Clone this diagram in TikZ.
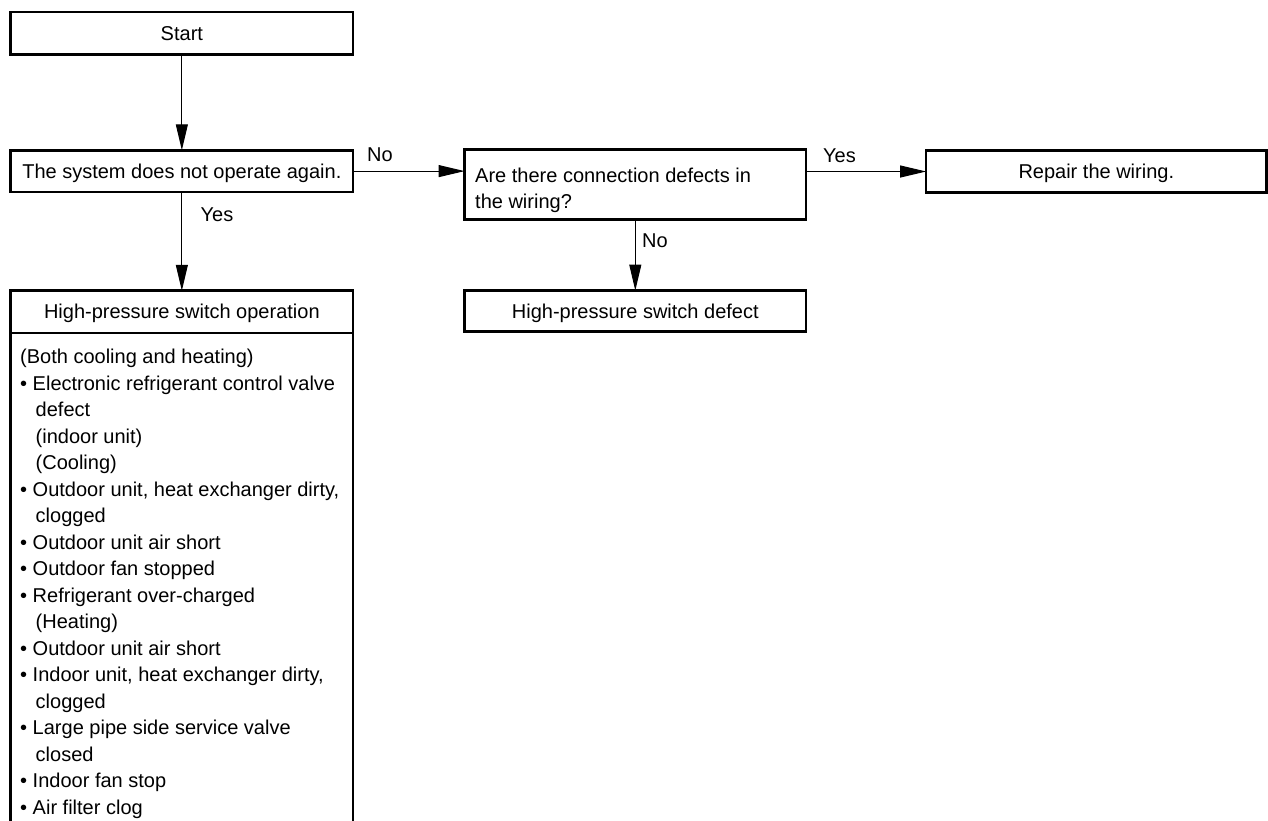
\documentclass[tikz,border=0pt]{standalone}
\usepackage{fontspec}
\setmainfont{Liberation Sans}
\usetikzlibrary{arrows.meta}
\begin{document}
\begin{tikzpicture}[x=1pt,y=-1pt,
  box/.style={draw, line width=2.6pt, outer sep=0pt, inner sep=0pt,
    font=\fontsize{20}{26.5}\selectfont, text height=14.3pt, text depth=0pt},
  lbl/.style={font=\fontsize{20}{26.5}\selectfont, inner sep=0pt},
  txt/.style={font=\fontsize{20}{26.5}\selectfont, inner sep=0pt, align=left, anchor=north west},
  arr/.style={line width=1pt, -{Triangle[length=26pt,width=12pt]}},
  side/.style={line width=2.6pt}]
\useasboundingbox (0,0) rectangle (1268,820);
\coordinate (bot) at (0,821);
% boxes
\node[box, minimum width=342.3pt, minimum height=42.4pt] (start) at (181.85,33) {Start};
\node[box, minimum width=342.3pt, minimum height=41.7pt] (sys) at (181.85,171.1) {The system does not operate again.};
\node[box, minimum width=342.3pt, minimum height=42.1pt] (hpop) at (181.85,311.8) {High-pressure switch operation};
\node[box, minimum width=341.5pt, minimum height=70pt] (q) at (635.3,184.5) {};
\node[txt] (qt) at (475,167.7) {Are there connection defects in\\the wiring?};
\node[box, minimum width=341.5pt, minimum height=40.7pt] (hpd) at (635.3,310.9) {High-pressure switch defect};
\node[box, minimum width=340.3pt, minimum height=42.5pt] (rep) at (1096.3,171.5) {Repair the wiring.};
% list box sides (open at the bottom)
\draw[side] (hpop.south west) -- (hpop.south west |- bot);
\draw[side] (hpop.south east) -- (hpop.south east |- bot);
\node[txt] (list) at (20,348.8) {(Both cooling and heating)\\
• Electronic refrigerant control valve\\
\hspace*{15.5pt}defect\\
\hspace*{15.5pt}(indoor unit)\\
\hspace*{15.5pt}(Cooling)\\
• Outdoor unit, heat exchanger dirty,\\
\hspace*{15.5pt}clogged\\
• Outdoor unit air short\\
• Outdoor fan stopped\\
• Refrigerant over-charged\\
\hspace*{15.5pt}(Heating)\\
• Outdoor unit air short\\
• Indoor unit, heat exchanger dirty,\\
\hspace*{15.5pt}clogged\\
• Large pipe side service valve\\
\hspace*{15.5pt}closed\\
• Indoor fan stop\\
• Air filter clog};
% connectors
\draw[arr] (start) -- (sys);
\draw[arr] (sys) -- (hpop);
\draw[arr] (sys.east) -- (sys.east -| q.west);
\draw[arr] (q.south) -- (hpd.north);
\draw[arr] (rep.west -| q.east) -- (rep.west);
% labels
\node[lbl] (no1) at (380,155) {No};
\node[lbl] (yes1) at (217,215) {Yes};
\node[lbl] (no2) at (655,241) {No};
\node[lbl] (yes2) at (839.5,155.5) {Yes};
\end{tikzpicture}
\end{document}
